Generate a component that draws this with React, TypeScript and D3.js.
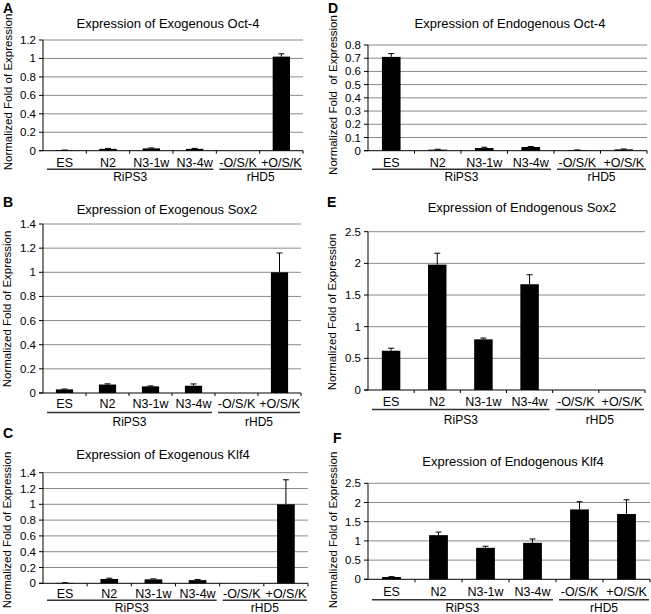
import React from "react";
import * as d3 from "d3";

const categories = ["ES", "N2", "N3-1w", "N3-4w", "-O/S/K", "+O/S/K"];
const groupNames = ["RiPS3", "rHD5"];
const groupSpans = [[0, 3], [4, 5]];

const exoOct4 = [0.005, 0.02, 0.025, 0.02, 0, 1.02];
const exoOct4Err = [0.002, 0.005, 0.005, 0.005, 0, 0.03];
const endoOct4 = [0.71, 0.008, 0.02, 0.028, 0.004, 0.01];
const endoOct4Err = [0.025, 0.003, 0.006, 0.004, 0.002, 0.003];
const exoSox2 = [0.03, 0.07, 0.055, 0.06, 0, 1.0];
const exoSox2Err = [0.003, 0.006, 0.004, 0.015, 0, 0.16];
const endoSox2 = [0.62, 1.98, 0.8, 1.67, 0, 0];
const endoSox2Err = [0.04, 0.18, 0.02, 0.15, 0, 0];
const exoKlf4 = [0.005, 0.055, 0.05, 0.04, 0, 1.0];
const exoKlf4Err = [0.002, 0.01, 0.006, 0.008, 0, 0.31];
const endoKlf4 = [0.06, 1.15, 0.82, 0.95, 1.82, 1.7];
const endoKlf4Err = [0.01, 0.08, 0.04, 0.1, 0.2, 0.37];

const ticks12 = [0, 0.2, 0.4, 0.6, 0.8, 1, 1.2];
const ticks08 = [0, 0.1, 0.2, 0.3, 0.4, 0.5, 0.6, 0.7, 0.8];
const ticks14 = [0, 0.2, 0.4, 0.6, 0.8, 1, 1.2, 1.4];
const ticks25 = [0, 0.5, 1, 1.5, 2, 2.5];

const FONT = "'Liberation Sans', Arial, Helvetica, sans-serif";

type Panel = {
  letter: string;
  title: string;
  ylabel: string;
  values: number[];
  errs: number[];
  ticks: number[];
  x0: number; x1: number; yTop: number; yBot: number;
  titleX: number; titleY: number;
  letterX: number; letterY: number;
  ylabX: number; ylabY: number;
  labOff: number; lineOff: number; grpOff: number;
};

const panels: Panel[] = [
  { letter: "A", title: "Expression of Exogenous Oct-4", ylabel: "Normalized Fold of Expression",
    values: exoOct4, errs: exoOct4Err, ticks: ticks12,
    x0: 43, x1: 303, yTop: 40, yBot: 150.7, titleX: 168, titleY: 28,
    letterX: 3, letterY: 12.5, ylabX: 12, ylabY: 92, labOff: 12, lineOff: 18.5, grpOff: 26.5 },
  { letter: "D", title: "Expression of Endogenous Oct-4", ylabel: "Normalized Fold  of Expression",
    values: endoOct4, errs: endoOct4Err, ticks: ticks08,
    x0: 368, x1: 647, yTop: 45, yBot: 150.7, titleX: 510, titleY: 28,
    letterX: 328, letterY: 12.5, ylabX: 337, ylabY: 95, labOff: 12, lineOff: 18.5, grpOff: 26.5 },
  { letter: "B", title: "Expression of Exogenous Sox2", ylabel: "Normalized Fold of Expression",
    values: exoSox2, errs: exoSox2Err, ticks: ticks14,
    x0: 43, x1: 301, yTop: 224, yBot: 393, titleX: 167, titleY: 214,
    letterX: 3, letterY: 207, ylabX: 11, ylabY: 309, labOff: 10.5, lineOff: 19.5, grpOff: 28.5 },
  { letter: "E", title: "Expression of Endogenous Sox2", ylabel: "Normalized Fold of Expression",
    values: endoSox2, errs: endoSox2Err, ticks: ticks25,
    x0: 368, x1: 645, yTop: 231.7, yBot: 390, titleX: 522, titleY: 212,
    letterX: 327, letterY: 207, ylabX: 336, ylabY: 312, labOff: 12, lineOff: 19.5, grpOff: 30 },
  { letter: "C", title: "Expression of Exogenous Klf4", ylabel: "Normalized Fold of Expression",
    values: exoKlf4, errs: exoKlf4Err, ticks: ticks14,
    x0: 43, x1: 308, yTop: 472.7, yBot: 583.3, titleX: 163, titleY: 459,
    letterX: 3, letterY: 438, ylabX: 11, ylabY: 530, labOff: 10, lineOff: 17, grpOff: 24.5 },
  { letter: "F", title: "Expression of Endogenous Klf4", ylabel: "Normalized Fold of Expression",
    values: endoKlf4, errs: endoKlf4Err, ticks: ticks25,
    x0: 368, x1: 650, yTop: 483.3, yBot: 579.3, titleX: 513, titleY: 466,
    letterX: 333, letterY: 443, ylabX: 337, ylabY: 530, labOff: 12, lineOff: 20.5, grpOff: 28.5 },
];

function PanelView({ p }: { p: Panel }) {
  const x = d3.scaleBand<string>().domain(categories).range([p.x0, p.x1]).paddingInner(0).paddingOuter(0);
  const maxT = p.ticks[p.ticks.length - 1];
  const y = d3.scaleLinear().domain([0, maxT]).range([p.yBot, p.yTop]);
  const bw = x.bandwidth();
  const barW = bw * 0.4;
  const fmt = (v: number) => String(+v.toFixed(2));
  return (
    <g>
      <text x={p.letterX} y={p.letterY} fontFamily={FONT} fontWeight="bold" fontSize={14}>{p.letter}</text>
      <text x={p.titleX} y={p.titleY} textAnchor="middle" fontFamily={FONT} fontSize={13}>{p.title}</text>
      <text transform={`translate(${p.ylabX},${p.ylabY}) rotate(-90)`} textAnchor="middle" fontFamily={FONT} fontSize={11.5} style={{ whiteSpace: "pre" }}>{p.ylabel}</text>
      {p.ticks.map((t) => (
        <g key={t}>
          {t > 0 && <line x1={p.x0} x2={p.x1} y1={y(t)} y2={y(t)} stroke="#8a8a8a" strokeWidth={1} />}
          <line x1={p.x0 - 4} x2={p.x0} y1={y(t)} y2={y(t)} stroke="#000" strokeWidth={1} />
          <text x={p.x0 - 7} y={y(t)} dy="0.35em" textAnchor="end" fontFamily={FONT} fontSize={11.5}>{fmt(t)}</text>
        </g>
      ))}
      {p.values.map((v, i) => {
        const c = categories[i];
        const cx = (x(c) as number) + bw / 2;
        const e = p.errs[i];
        return (
          <g key={c}>
            {v > 0 && <rect x={cx - barW / 2} y={y(v)} width={barW} height={p.yBot - y(v)} fill="#000" />}
            {e > 0 && (
              <g stroke="#000" strokeWidth={1}>
                <line x1={cx} x2={cx} y1={y(v)} y2={y(v + e)} />
                <line x1={cx - 3} x2={cx + 3} y1={y(v + e)} y2={y(v + e)} />
              </g>
            )}
            <text x={cx} y={p.yBot + p.labOff} dy="0.35em" textAnchor="middle" fontFamily={FONT} fontSize={12.5}>{c}</text>
          </g>
        );
      })}
      <line x1={p.x0} x2={p.x0} y1={p.yTop} y2={p.yBot} stroke="#000" strokeWidth={1} />
      <line x1={p.x0 - 4} x2={p.x1} y1={p.yBot} y2={p.yBot} stroke="#000" strokeWidth={1} />
      {categories.map((c) => (
        <line key={c} x1={(x(c) as number) + bw} x2={(x(c) as number) + bw} y1={p.yBot} y2={p.yBot + 3} stroke="#000" strokeWidth={1} />
      ))}
      {groupNames.map((g, gi) => {
        const [a, b] = groupSpans[gi];
        const gx0 = (x(categories[a]) as number) + (gi === 0 ? 4 : 3);
        const gx1 = (x(categories[b]) as number) + bw - (gi === 0 ? 3 : 1);
        return (
          <g key={g}>
            <line x1={gx0} x2={gx1} y1={p.yBot + p.lineOff} y2={p.yBot + p.lineOff} stroke="#333" strokeWidth={1.6} />
            <text x={(gx0 + gx1) / 2} y={p.yBot + p.grpOff} dy="0.35em" textAnchor="middle" fontFamily={FONT} fontSize={12}>{g}</text>
          </g>
        );
      })}
    </g>
  );
}

export default function App() {
  return (
    <svg width={651} height={614} style={{ position: "absolute", left: 0, top: 0, background: "#fff" }}>
      <rect width={651} height={614} fill="#fff" />
      {panels.map((p) => <PanelView key={p.letter} p={p} />)}
    </svg>
  );
}
